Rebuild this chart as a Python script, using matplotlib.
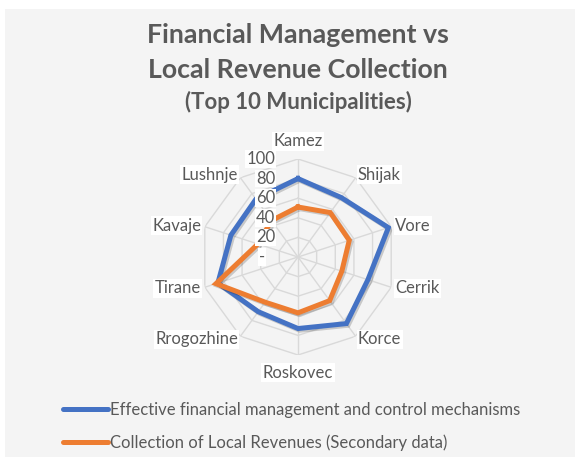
import numpy as np
import matplotlib
matplotlib.use("Agg")
import matplotlib.pyplot as plt
from matplotlib.patches import Rectangle
import matplotlib.patheffects as pe

categories = ['Kamez', 'Shijak', 'Vore', 'Cerrik', 'Korce', 'Roskovec',
              'Rrogozhine', 'Tirane', 'Kavaje', 'Lushnje']
fin_mgmt = [80, 75, 97, 75, 84, 73, 69, 86, 72, 73]
local_rev = [51, 56, 55, 47, 55, 57, 57, 88, 43, 46]
series_names = ['Effective financial management and control mechanisms',
                'Collection of Local Revenues (Secondary data)']
r_ticks = [0, 20, 40, 60, 80, 100]
r_tick_labels = ['-', '20', '40', '60', '80', '100']

BLUE = '#4472C4'
ORANGE = '#ED7D31'
GREY_TXT = '#595959'
GRID = '#d9d9d9'
FONT = ['Lato', 'DejaVu Sans']

plt.rcParams['font.family'] = FONT

W, H = 575, 457
fig = plt.figure(figsize=(W / 100, H / 100), dpi=100, facecolor='white')
fig.patches.append(Rectangle((5 / W, 0), 1 - 5 / W, 1 - 9 / H, transform=fig.transFigure,
                             facecolor='#f4f4f4', edgecolor='none', zorder=-10))

cx, cy, R = 298, 257, 98
ax = fig.add_axes([(cx - R) / W, (H - cy - R) / H, 2 * R / W, 2 * R / H], projection='polar')
ax.set_facecolor('none')
ax.set_theta_zero_location('N')
ax.set_theta_direction(-1)
ax.set_ylim(0, 100)
ax.grid(False)
ax.spines['polar'].set_visible(False)
ax.set_xticks([])
ax.set_yticks([])

n = len(categories)
theta = np.linspace(0, 2 * np.pi, n, endpoint=False)
theta_c = np.concatenate([theta, theta[:1]])

# polygon rings and spokes
for rv in r_ticks[1:]:
    ax.plot(theta_c, [rv] * (n + 1), color=GRID, lw=1.0, zorder=1)
for t in theta:
    ax.plot([t, t], [0, 100], color=GRID, lw=1.0, zorder=1)

shadow = [pe.SimpleLineShadow(offset=(1.2, -1.2), alpha=0.18, shadow_color='black'), pe.Normal()]
for vals, col, name in [(fin_mgmt, BLUE, series_names[0]), (local_rev, ORANGE, series_names[1])]:
    v = np.concatenate([vals, vals[:1]])
    ax.plot(theta_c, v, color=col, lw=3.6, solid_joinstyle='miter', zorder=3,
            path_effects=shadow, label=name)

LFS = 12
# category labels
box = dict(facecolor='white', edgecolor='none', pad=1.0)
for t, lab in zip(theta, categories):
    deg = np.degrees(t) % 360
    if deg < 1 or abs(deg - 180) < 1:
        ax.text(t, 118, lab, ha='center', va='center', fontsize=LFS, color=GREY_TXT,
                bbox=box, zorder=5)
    elif deg < 180:
        ax.text(t, 104, lab, ha='left', va='center', fontsize=LFS, color=GREY_TXT,
                bbox=box, zorder=5)
    else:
        ax.text(t, 104, lab, ha='right', va='center', fontsize=LFS, color=GREY_TXT,
                bbox=box, zorder=5)

# radial labels
for rv, lab in zip(r_ticks, r_tick_labels):
    off = -16.5 if rv > 0 else -24
    ax.annotate(lab, xy=(0, rv), xytext=(off, 0), textcoords='offset points',
                ha='right', va='center', fontsize=LFS, color=GREY_TXT,
                bbox=dict(facecolor='white', edgecolor='none', pad=0.6), zorder=6,
                annotation_clip=False)

# title
fig.text(298 / W, 1 - 35 / H, 'Financial Management vs', ha='center', va='center',
         fontsize=19.3, fontweight='bold', color=GREY_TXT)
fig.text(298 / W, 1 - 70 / H, 'Local Revenue Collection', ha='center', va='center',
         fontsize=19.3, fontweight='bold', color=GREY_TXT)
fig.text(298 / W, 1 - 102 / H, '(Top 10 Municipalities)', ha='center', va='center',
         fontsize=16, fontweight='bold', color=GREY_TXT)

# legend
leg = fig.legend(loc='upper left', bbox_to_anchor=(63 / W, 1 - 402 / H),
                 frameon=False, fontsize=LFS, handlelength=2.7, handletextpad=0.12,
                 labelspacing=1.0, borderaxespad=0, borderpad=0)
for txt in leg.get_texts():
    txt.set_color(GREY_TXT)
for ln in leg.get_lines():
    ln.set_linewidth(3.6)
    ln.set_path_effects([])
    ln.set_solid_capstyle('round')

fig.savefig('out.png', dpi=100, facecolor='white')
